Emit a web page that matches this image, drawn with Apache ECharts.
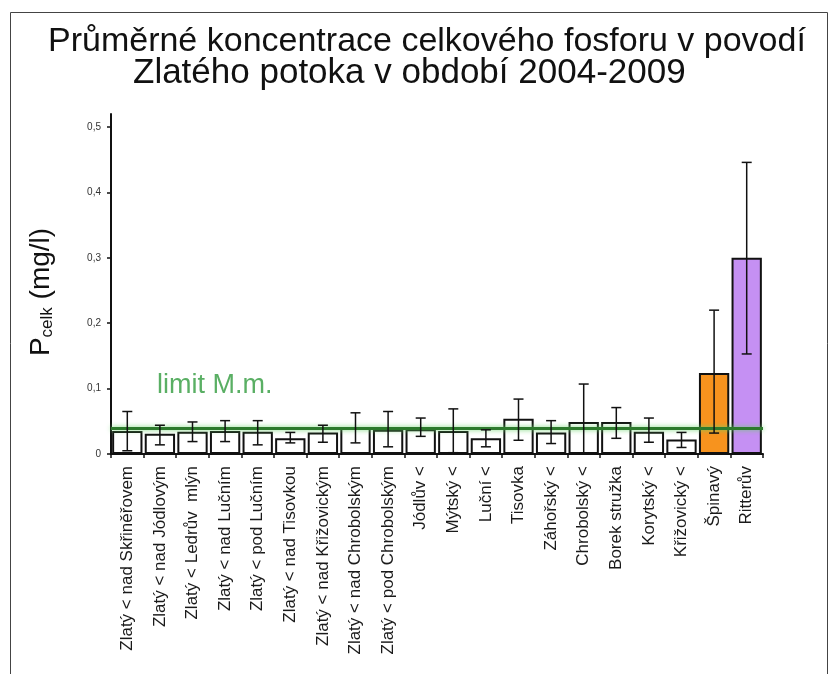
<!DOCTYPE html>
<html>
<head>
<meta charset="utf-8">
<script src="https://cdn.jsdelivr.net/npm/echarts@6/dist/echarts.min.js"></script>
<style>
  html, body { margin: 0; padding: 0; background: #fff; }
  #chart { width: 830px; height: 674px; }
</style>
</head>
<body>
<div id="chart"></div>
<script>
const categories = [
  'Zlatý < nad Skřiněřovem', 'Zlatý < nad Jódlovým', 'Zlatý < Ledrův  mlýn', 'Zlatý < nad Lučním',
  'Zlatý < pod Lučním', 'Zlatý < nad Tisovkou', 'Zlatý < nad Křižovickým', 'Zlatý < nad Chrobolským',
  'Zlatý < pod Chrobolským', 'Jódlův <', 'Mýtský <', 'Luční <', 'Tisovka', 'Záhořský <',
  'Chrobolský <', 'Borek stružka', 'Korytský <', 'Křižovický <', 'Špinavý', 'Ritterův'
]
const means = [0.035, 0.031, 0.034, 0.035, 0.034, 0.024, 0.033, 0.041, 0.037, 0.038,
  0.035, 0.024, 0.054, 0.033, 0.049, 0.049, 0.034, 0.022, 0.124, 0.300]
const errLow = [0.005, 0.014, 0.019, 0.019, 0.014, 0.017, 0.018, 0.017, 0.011, 0.027,
  0.002, 0.011, 0.021, 0.016, 0.001, 0.024, 0.018, 0.010, 0.032, 0.153]
const errHigh = [0.065, 0.044, 0.049, 0.051, 0.051, 0.033, 0.044, 0.063, 0.065, 0.055,
  0.069, 0.037, 0.084, 0.051, 0.107, 0.071, 0.055, 0.033, 0.220, 0.446]
const barColors = { 'Špinavý': '#f7931e', 'Ritterův': '#c590f3' }
const yTicks = [0, 0.1, 0.2, 0.3, 0.4, 0.5]
const limitMM = 0.035

const font = 'Liberation Sans, Arial, sans-serif'

const chart = echarts.init(document.getElementById('chart'))

const option = {
  animation: false,
  backgroundColor: '#fff',
  title: [
    {
      text: 'Průměrné koncentrace celkového fosforu v povodí',
      left: 43, top: 20,
      textStyle: { fontSize: 34, fontWeight: 'normal', color: '#111', fontFamily: font }
    },
    {
      text: 'Zlatého potoka v období 2004-2009',
      left: 128, top: 51,
      textStyle: { fontSize: 35, fontWeight: 'normal', color: '#111', fontFamily: font }
    }
  ],
  graphic: [{
    type: 'rect', silent: true,
    shape: { x: 10.5, y: 12.5, width: 817, height: 700 },
    style: { fill: 'none', stroke: '#444', lineWidth: 1 }
  }],
  grid: { left: 111, right: 67, top: 114, bottom: 220, outerBoundsMode: 'none' },
  xAxis: {
    type: 'category',
    data: categories,
    axisLine: { lineStyle: { color: '#111', width: 2 } },
    axisTick: { show: true, length: 4, lineStyle: { color: '#111', width: 1.5 } },
    axisLabel: {
      interval: 0, rotate: 90, fontSize: 17, color: '#1a1a1a', margin: 12, fontFamily: font
    }
  },
  yAxis: {
    type: 'value',
    min: 0, max: 0.52,
    name: '{a|P}{b|celk}{a| (mg/l)}',
    nameLocation: 'middle',
    nameRotate: 90,
    nameGap: 55,
    nameTextStyle: {
      fontFamily: font, color: '#111',
      padding: [0, 16, 0, 0],
      rich: {
        a: { fontSize: 28, fontFamily: font, color: '#111', lineHeight: 30 },
        b: { fontSize: 17, fontFamily: font, color: '#111', verticalAlign: 'bottom', lineHeight: 18 }
      }
    },
    splitLine: { show: false },
    axisLine: { show: true, lineStyle: { color: '#111', width: 2 } },
    axisTick: { show: true, length: 4, customValues: yTicks, lineStyle: { color: '#111', width: 1.5 } },
    axisLabel: {
      customValues: yTicks, fontSize: 10, color: '#333', margin: 10, fontFamily: font,
      formatter: v => v === 0 ? '0' : v.toFixed(1).replace('.', ',')
    }
  },
  series: [
    {
      type: 'bar',
      z: 2,
      barCategoryGap: '7%',
      data: means.map((v, i) => ({
        value: v,
        itemStyle: { color: barColors[categories[i]] || '#fff' }
      })),
      itemStyle: { borderColor: '#111', borderWidth: 2 },
      markLine: {
        silent: true,
        symbol: 'none',
        z: 4,
        data: [{ yAxis: limitMM }],
        lineStyle: {
          color: '#2d7a2d', width: 3, type: 'solid',
          shadowColor: 'rgba(100,210,100,0.9)', shadowBlur: 5
        },
        label: {
          show: true,
          formatter: 'limit M.m.',
          position: 'insideStartTop',
          distance: [46, 29],
          color: '#5aaf64',
          fontSize: 27,
          fontFamily: font
        }
      }
    },
    {
      type: 'custom',
      z: 10,
      data: categories.map((c, i) => [i, errLow[i], errHigh[i]]),
      renderItem(params, api) {
        const lo = api.coord([api.value(0), api.value(1)])
        const hi = api.coord([api.value(0), api.value(2)])
        const half = 5
        const style = { stroke: '#111', lineWidth: 1.5 }
        return {
          type: 'group',
          children: [
            { type: 'line', shape: { x1: lo[0], y1: lo[1], x2: hi[0], y2: hi[1] }, style },
            { type: 'line', shape: { x1: hi[0] - half, y1: hi[1], x2: hi[0] + half, y2: hi[1] }, style },
            { type: 'line', shape: { x1: lo[0] - half, y1: lo[1], x2: lo[0] + half, y2: lo[1] }, style }
          ]
        }
      }
    }
  ]
}

chart.setOption(option)
</script>
</body>
</html>
